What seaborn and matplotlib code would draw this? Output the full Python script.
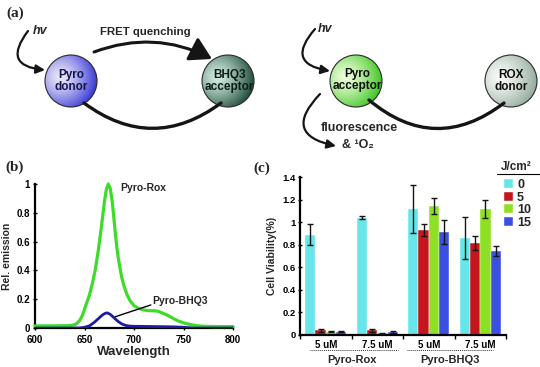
import numpy as np
import pandas as pd
import matplotlib
matplotlib.use('Agg')
import matplotlib.pyplot as plt
import matplotlib.colors as mcolors
import seaborn as sns
from matplotlib.patches import Circle, FancyArrowPatch

# ---------------- data: panel (b) emission spectra ----------------
wl_rox = [600, 620, 636, 641, 645, 648, 651, 655, 658, 661, 664, 667, 670, 672, 674,
          676, 678, 680, 682, 684, 686, 688, 690, 693, 696, 700, 705, 710, 715, 720,
          725, 730, 735, 740, 745, 750, 755, 760, 765, 770, 780, 800]
em_rox = [0.015, 0.015, 0.017, 0.025, 0.05, 0.09, 0.15, 0.23, 0.31, 0.41, 0.54, 0.70, 0.87, 0.96, 1.0,
          0.97, 0.88, 0.74, 0.60, 0.49, 0.41, 0.34, 0.29, 0.23, 0.19, 0.155, 0.135, 0.125, 0.12, 0.12,
          0.115, 0.10, 0.085, 0.065, 0.048, 0.036, 0.027, 0.02, 0.015, 0.012, 0.01, 0.01]
wl_bhq = [600, 645, 650, 655, 660, 664, 668, 671, 673, 676, 680, 684, 688, 692, 696, 700,
          720, 740, 750, 760, 800]
em_bhq = [0.0, 0.0, 0.005, 0.015, 0.04, 0.065, 0.09, 0.102, 0.105, 0.095, 0.07, 0.045, 0.027,
          0.017, 0.013, 0.012, 0.01, 0.008, 0.005, 0.0, 0.0]
wl_ticks = [600, 650, 700, 750, 800]
em_ticks = [0, 0.2, 0.4, 0.6, 0.8, 1.0]
em_tick_labels = ['0', '0.2', '0.4', '0.6', '0.8', '1']

# ---------------- data: panel (c) cell viability ----------------
groups = ['Rox 5', 'Rox 7.5', 'BHQ3 5', 'BHQ3 7.5']
conc_labels = ['5 uM', '7.5 uM', '5 uM', '7.5 uM']
probe_labels = ['Pyro-Rox', 'Pyro-BHQ3']
doses = ['0', '5', '10', '15']
via_0 = [0.89, 1.04, 1.115, 0.86]
via_5 = [0.04, 0.04, 0.93, 0.815]
via_10 = [0.03, 0.015, 1.145, 1.12]
via_15 = [0.03, 0.025, 0.91, 0.745]
err_0 = [0.095, 0.013, 0.21, 0.185]
err_5 = [0.01, 0.01, 0.05, 0.063]
err_10 = [0.005, 0.005, 0.07, 0.08]
err_15 = [0.007, 0.007, 0.105, 0.045]
via_ticks = [0, 0.2, 0.4, 0.6, 0.8, 1.0, 1.2, 1.4]
via_tick_labels = ['0', '0.2', '0.4', '0.6', '0.8', '1', '1.2', '1.4']
bar_colors = ['#66e6e8', '#c4161c', '#8ee024', '#3b4fe0']

# ---------------- style ----------------
sns.set_theme(style='ticks')
plt.rcParams['font.family'] = ['Liberation Sans', 'DejaVu Sans']
plt.rcParams['font.weight'] = 'bold'
plt.rcParams['axes.labelweight'] = 'bold'
plt.rcParams['axes.edgecolor'] = 'black'
plt.rcParams['xtick.color'] = 'black'
plt.rcParams['ytick.color'] = 'black'

W, H = 540, 367
fig = plt.figure(figsize=(5.4, 3.67), dpi=100)
fig.patch.set_facecolor('white')


def fx(px):
    return px / W


def fy(py):
    return 1 - py / H


# overlay axes in pixel coordinates (y downwards) for the diagram
ov = fig.add_axes([0, 0, 1, 1])
ov.set_axis_off()

SERIF = ['Liberation Serif', 'DejaVu Serif']


def grad_circle(ax, cx, cy, r, c_in, c_out, hx=-0.4, hy=-0.15, p=1.3):
    n = 160
    xs = np.linspace(-1, 1, n)
    X, Y = np.meshgrid(xs, xs)
    d = np.sqrt((X - hx) ** 2 + (Y - hy) ** 2) / (1 + np.hypot(hx, hy))
    t = np.clip(d, 0, 1)[..., None] ** p
    ci = np.array(mcolors.to_rgb(c_in))
    co = np.array(mcolors.to_rgb(c_out))
    img = ci * (1 - t) + co * t
    im = ax.imshow(img, extent=(cx - r, cx + r, cy + r, cy - r), origin='upper',
                   aspect='auto', zorder=2, interpolation='bilinear')
    circ = Circle((cx, cy), r, facecolor='none', edgecolor='#2a2a2a', lw=0.8, zorder=3)
    ax.add_patch(circ)
    im.set_clip_path(circ)
    return circ


def curve(ax, p1, p2, rad, lw=1.6, style='-|>', ms=12):
    a = FancyArrowPatch(p1, p2, connectionstyle=f'arc3,rad={rad}', arrowstyle=style,
                        mutation_scale=ms, lw=lw, color='#151515', shrinkA=0, shrinkB=0,
                        zorder=4)
    ax.add_patch(a)


CIRC_FS = 8.5

# left diagram
curve(ov, (28, 31), (45, 70), 0.9, lw=1.6, ms=13)
curve(ov, (94, 52), (212, 59), -0.22, lw=2.2, style='-|>,head_length=0.6,head_width=0.35', ms=22)
curve(ov, (84, 103), (221, 103), 0.37, lw=2.4, style='-')
c1 = grad_circle(ov, 71, 81, 26, '#ece8fa', '#3636d6')
c2 = grad_circle(ov, 228, 81, 26, '#d0ecdf', '#1d4a38')
ov.text(40, 31, 'hv', fontsize=9, fontstyle='italic', fontweight='bold', ha='center', va='center')
ov.text(145, 32, 'FRET quenching', fontsize=8.2, fontweight='bold', ha='center', va='center')
ov.text(71, 81, 'Pyro\ndonor', fontsize=CIRC_FS, fontweight='bold', ha='center', va='center',
        color='#14144a', linespacing=1.05, zorder=5)
t2 = ov.text(229, 81, 'BHQ3\nacceptor', fontsize=CIRC_FS, fontweight='bold', ha='center', va='center',
             color='#0e1c16', linespacing=1.05, zorder=5)
t2.set_clip_path(c2)

# right diagram
curve(ov, (315, 29), (330, 71), 0.9, lw=1.6, ms=13)
curve(ov, (320, 94), (336, 146), 0.9, lw=1.6, ms=13)
curve(ov, (369, 100), (504, 103), 0.4, lw=2.4, style='-')
c3 = grad_circle(ov, 356, 81, 26, '#eeffd8', '#3cc422')
c4 = grad_circle(ov, 511, 81, 26, '#fafcfa', '#92aa9a')
ov.text(325, 29, 'hv', fontsize=9, fontstyle='italic', fontweight='bold', ha='center', va='center')
t3 = ov.text(357, 80, 'Pyro\nacceptor', fontsize=CIRC_FS, fontweight='bold', ha='center', va='center',
             color='#101010', linespacing=1.05, zorder=5)
t3.set_clip_path(c3)
ov.text(511, 81, 'ROX\ndonor', fontsize=CIRC_FS, fontweight='bold', ha='center', va='center',
        color='#101010', linespacing=1.05, zorder=5)
ov.text(359, 128, 'fluorescence', fontsize=9, fontweight='bold', ha='center', va='center')
ov.text(358, 145, '& ¹O₂', fontsize=9, fontweight='bold', ha='center', va='center')

# panel letters
ov.text(15, 13, '(a)', fontsize=11, fontweight='bold', family=SERIF, ha='center', va='center')
ov.text(15, 167, '(b)', fontsize=11, fontweight='bold', family=SERIF, ha='center', va='center')
ov.text(262, 168, '(c)', fontsize=11, fontweight='bold', family=SERIF, ha='center', va='center')

# ---------------- panel (b) ----------------
axb = fig.add_axes([fx(35), fy(328), (233 - 35) / W, (328 - 184) / H])
sns.lineplot(x=wl_rox, y=em_rox, ax=axb, color='#3edc2a', lw=2.3, clip_on=False)
sns.lineplot(x=wl_bhq, y=em_bhq, ax=axb, color='#1c1ca2', lw=2.0, clip_on=True)
axb.set_xlim(600, 800)
axb.set_ylim(0, 1)
axb.set_xticks(wl_ticks)
axb.set_yticks(em_ticks)
axb.set_yticklabels(em_tick_labels)
for s in ['top', 'right']:
    axb.spines[s].set_visible(False)
for s in ['left', 'bottom']:
    axb.spines[s].set_linewidth(1.6)
    axb.spines[s].set_zorder(1)
axb.tick_params(axis='y', direction='inout', length=3, width=1, labelsize=7, pad=2)
axb.tick_params(axis='x', direction='inout', length=3, width=1, labelsize=7, pad=3.5)
axb.set_xlabel('Wavelength', fontsize=9.5, fontweight='bold', labelpad=0.5)
axb.set_ylabel('Rel. emission', fontsize=7.5, fontweight='bold', labelpad=3)
axb.text(686, 0.975, 'Pyro-Rox', fontsize=7.5, fontweight='bold', ha='left', va='center')
axb.text(718, 0.19, 'Pyro-BHQ3', fontsize=7.5, fontweight='bold', ha='left', va='center')
axb.annotate('', xy=(681, 0.078), xytext=(717, 0.16),
             arrowprops=dict(arrowstyle='-', color='black', lw=1.0, shrinkA=0, shrinkB=0))
axb.set_facecolor('none')

# ---------------- panel (c) ----------------
axc = fig.add_axes([fx(300), fy(335), 206 / W, (335 - 177) / H])
rows = []
for d, vals in zip(doses, [via_0, via_5, via_10, via_15]):
    for g, v in zip(groups, vals):
        rows.append({'group': g, 'dose': d, 'viability': v})
df = pd.DataFrame(rows)
sns.barplot(data=df, x='group', y='viability', hue='dose', order=groups, hue_order=doses,
            palette=bar_colors, saturation=1, errorbar=None, width=0.8, ax=axc,
            edgecolor='white', linewidth=0.3)
for cont, errs in zip(axc.containers, [err_0, err_5, err_10, err_15]):
    for bar, e in zip(cont, errs):
        xc = bar.get_x() + bar.get_width() / 2
        axc.errorbar(xc, bar.get_height(), yerr=e, color='#151515', lw=1.0,
                     capsize=2.2, capthick=1.0, zorder=5)
handles, labels = axc.get_legend_handles_labels()
if axc.legend_ is not None:
    axc.legend_.remove()
axc.set_xlim(-0.5, 3.5)
axc.set_ylim(0, 1.4)
axc.set_yticks(via_ticks)
axc.set_yticklabels(via_tick_labels)
axc.set_xticks(range(len(groups)))
axc.set_xticklabels(conc_labels)
axc.set_xticks([-0.5, 0.5, 1.5, 2.5, 3.5], minor=True)
axc.tick_params(axis='x', which='major', length=0, labelsize=7, pad=3.5)
axc.tick_params(axis='x', which='minor', length=3, width=1, direction='out')
axc.tick_params(axis='y', direction='inout', length=3, width=1, labelsize=6.8, pad=1.5)
for s in ['top', 'right']:
    axc.spines[s].set_visible(False)
for s in ['left', 'bottom']:
    axc.spines[s].set_linewidth(1.6)
axc.set_xlabel('')
axc.set_ylabel('Cell Viability(%)', fontsize=7.5, fontweight='bold', labelpad=4)
axc.set_facecolor('none')

leg = fig.legend(handles, labels, loc='upper left',
                 bbox_to_anchor=(fx(504), fy(179)), frameon=False, fontsize=9,
                 handlelength=0.75, handleheight=0.75, handletextpad=0.3,
                 labelspacing=0.05, borderpad=0, borderaxespad=0)
for txt in leg.get_texts():
    txt.set_fontweight('bold')

# legend title and underline, group labels under panel (c)
ov.text(516, 167, 'J/cm²', fontsize=8.5, fontweight='bold', ha='center', va='center')
ov.plot([497, 540], [174, 174], color='black', lw=0.8)
ov.plot([310, 398], [350, 350], color='#333333', lw=0.7, ls=(0, (1, 1)))
ov.plot([407, 493], [350, 350], color='#333333', lw=0.7, ls=(0, (1, 1)))
ov.text(352, 360, probe_labels[0], fontsize=8, fontweight='bold', ha='center', va='center')
ov.text(450, 360, probe_labels[1], fontsize=8, fontweight='bold', ha='center', va='center')

ov.set_xlim(0, W)
ov.set_ylim(H, 0)

fig.savefig('out.png', dpi=100, facecolor='white')
